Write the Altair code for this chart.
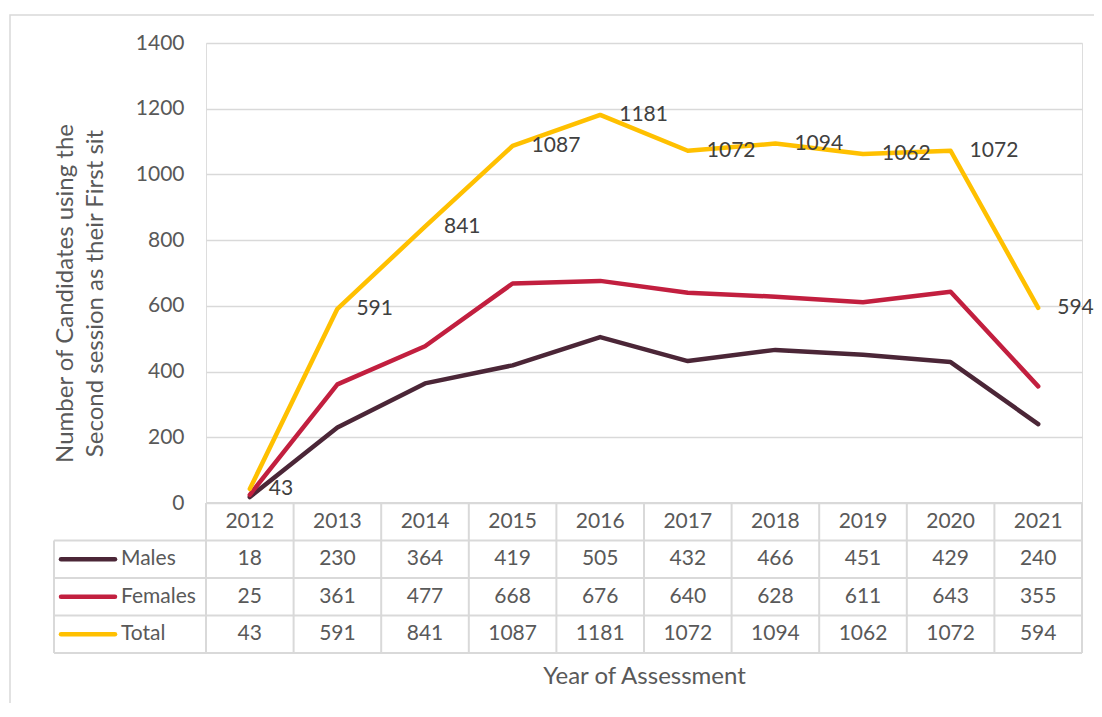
import altair as alt
import pandas as pd

years = [2012, 2013, 2014, 2015, 2016, 2017, 2018, 2019, 2020, 2021]
males = [18, 230, 364, 419, 505, 432, 466, 451, 429, 240]
females = [25, 361, 477, 668, 676, 640, 628, 611, 643, 355]
total = [43, 591, 841, 1087, 1181, 1072, 1094, 1062, 1072, 594]
series_names = ["Males", "Females", "Total"]
series_colors = ["#4B2637", "#C21F3F", "#FFC000"]
y_ticks = [0, 200, 400, 600, 800, 1000, 1200, 1400]

FONT = "Lato"
TXT = "#595959"
GRID = "#D9D9D9"
n = len(years)
PLOT_W, PLOT_H = 876, 460
STEP_PX = PLOT_W / n

rows = []
for r, (s, vals) in enumerate(zip(series_names, [males, females, total])):
    for i, (yr, v) in enumerate(zip(years, vals)):
        rows.append({"Series": s, "Year": str(yr), "idx": i, "Value": v, "row": r + 1.5})
df = pd.DataFrame(rows)

hdr = pd.DataFrame({"Year": [str(y) for y in years], "idx": list(range(n)), "row": [0.5] * n})
leg = pd.DataFrame({"Series": series_names, "row": [1.5, 2.5, 3.5]})

legend_left = -0.5 - 152 / STEP_PX
geo = [{"x1": -0.5, "x2": n - 0.5, "y1": 0, "y2": 0}]
geo += [{"x1": legend_left, "x2": n - 0.5, "y1": k, "y2": k} for k in range(1, 5)]
geo += [{"x1": i - 0.5, "x2": i - 0.5, "y1": 0, "y2": 4} for i in range(n + 1)]
geo += [{"x1": legend_left, "x2": legend_left, "y1": 1, "y2": 4}]
geo = pd.DataFrame(geo)

xscale = alt.Scale(domain=[-0.5, n - 0.5])
tscale = alt.Scale(domain=[0, 4], range=[PLOT_H, PLOT_H + 150])
cscale = alt.Scale(domain=series_names, range=series_colors)

border = alt.Chart(alt.Data(values=[{}])).mark_rect(
    fillOpacity=0, stroke=GRID, strokeWidth=1.5
).encode(x=alt.value(-196), x2=alt.value(PLOT_W + 60), y=alt.value(-28), y2=alt.value(PLOT_H + 260))

base = alt.Chart(df)
line = base.mark_line(strokeWidth=4.5, strokeCap="round", strokeJoin="round").encode(
    x=alt.X("idx:Q", scale=xscale,
            axis=alt.Axis(labels=False, ticks=False, domain=False, grid=False,
                          title="Year of Assessment", titleFont=FONT, titleFontSize=24,
                          titleFontWeight="normal", titleColor=TXT, titleY=180,
                          titleBaseline="alphabetic")),
    y=alt.Y("Value:Q", scale=alt.Scale(domain=[0, 1400]),
            axis=alt.Axis(values=y_ticks, format="d", grid=True, gridColor=GRID, gridWidth=1.5,
                          domain=False, ticks=False, labelPadding=22, labelFont=FONT,
                          labelFontSize=21, labelColor=TXT,
                          title=["Number of Candidates using the", "Second session as their First sit"],
                          titleFont=FONT, titleFontSize=24, titleFontWeight="normal",
                          titleColor=TXT, titleX=-134, titleY=250, titleAlign="center",
                          titleBaseline="alphabetic", titleAngle=270, titleLineHeight=30)),
    color=alt.Color("Series:N", scale=cscale, legend=None),
    order=alt.Order("idx:Q"),
)
labels = base.transform_filter(alt.datum.Series == "Total").mark_text(
    align="left", baseline="middle", dx=19, font=FONT, fontSize=21, color="#404040"
).encode(x=alt.X("idx:Q", scale=xscale), y=alt.Y("Value:Q"), text="Value:Q")

main = alt.layer(border, line, labels)

rules = alt.Chart(geo).mark_rule(color=GRID, strokeWidth=2).encode(
    x=alt.X("x1:Q", scale=xscale), x2="x2:Q",
    y=alt.Y("y1:Q", scale=tscale, axis=None), y2="y2:Q")
swatch = alt.Chart(leg).mark_rule(strokeWidth=4.5, strokeCap="round").encode(
    x=alt.value(-145), x2=alt.value(-91),
    y=alt.Y("row:Q", scale=tscale, axis=None),
    color=alt.Color("Series:N", scale=cscale, legend=None))
legtext = alt.Chart(leg).mark_text(align="left", baseline="middle", font=FONT, fontSize=21, color=TXT).encode(
    x=alt.value(-85), y=alt.Y("row:Q", scale=tscale, axis=None), text="Series:N")
header = alt.Chart(hdr).mark_text(baseline="middle", font=FONT, fontSize=21, color=TXT).encode(
    x=alt.X("idx:Q", scale=xscale), y=alt.Y("row:Q", scale=tscale, axis=None), text="Year:N")
cells = alt.Chart(df).mark_text(baseline="middle", font=FONT, fontSize=21, color=TXT).encode(
    x=alt.X("idx:Q", scale=xscale), y=alt.Y("row:Q", scale=tscale, axis=None), text="Value:Q")

chart = alt.layer(main, rules, swatch, legtext, header, cells).resolve_scale(y="independent").properties(
    width=PLOT_W, height=PLOT_H,
    autosize=alt.AutoSizeParams(type="none"),
    padding={"left": 198, "top": 35, "right": 12, "bottom": 200},
).configure_view(stroke=None).configure(background="white")

chart.save("out.html", embed_options={"renderer": "svg", "actions": False})
